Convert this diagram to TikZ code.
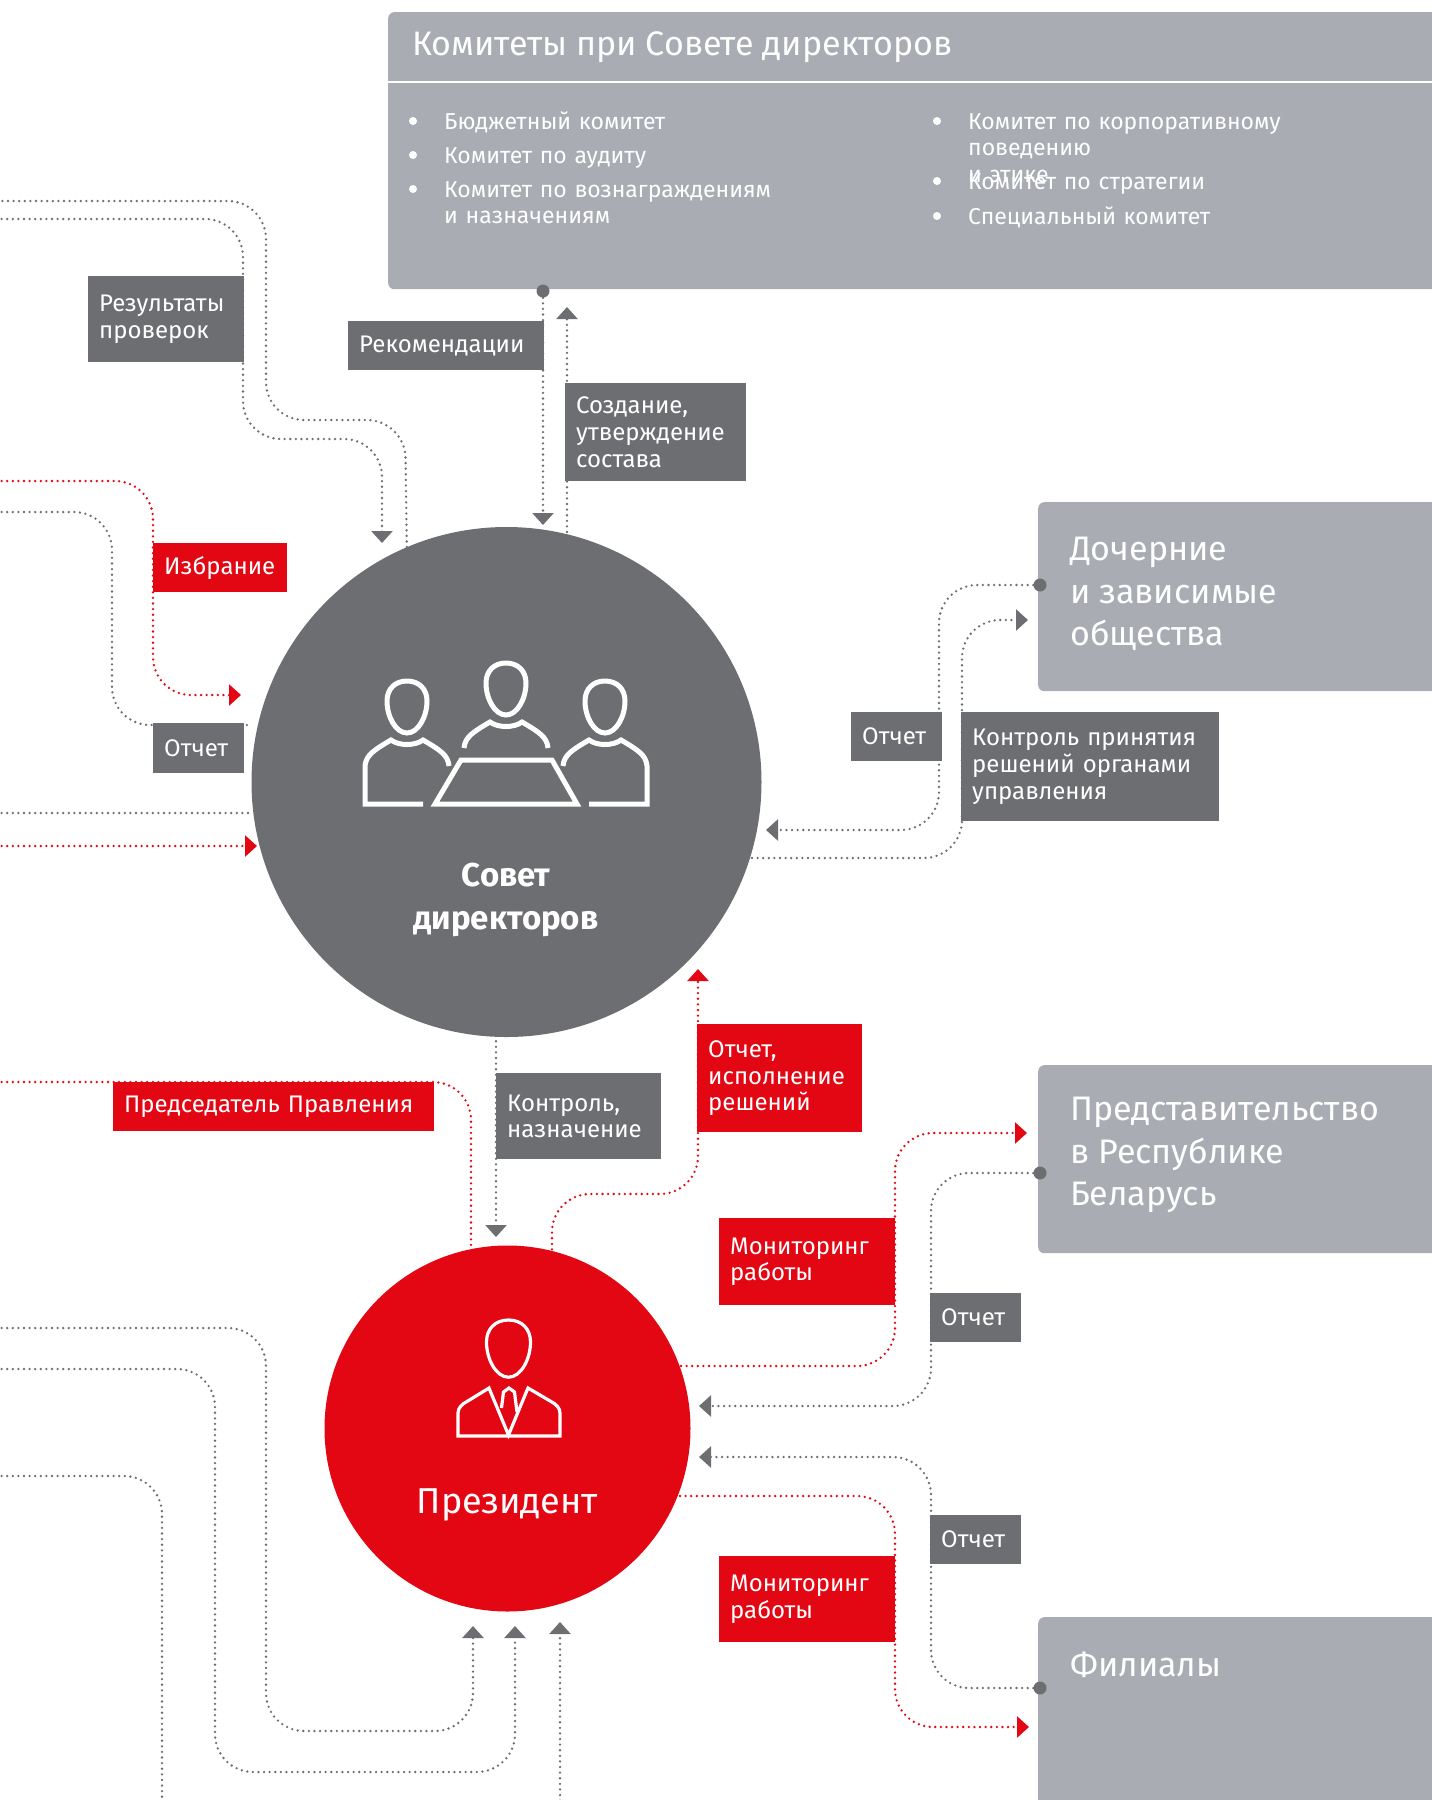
\documentclass[tikz,border=0pt]{standalone}
\usepackage{fontspec}
\setmainfont{Fira Sans}
\usetikzlibrary{arrows.meta,backgrounds}
\definecolor{boardgray}{HTML}{6D6E71}
\definecolor{boxgray}{HTML}{A9ACB3}
\definecolor{brandred}{HTML}{E30613}
\tikzset{
  link/.style={line width=2.6pt, dash pattern=on 0pt off 5.6pt, line cap=round, rounded corners=38pt},
  linkgray/.style={link, draw=boardgray},
  linkred/.style={link, draw=brandred},
  tipgray/.style={-{Triangle[width=21pt,length=12pt,fill=boardgray]}},
  tipred/.style={-{Triangle[width=21pt,length=12pt,fill=brandred]}},
  tag/.style={anchor=north west, inner xsep=11pt, inner ysep=0pt, text=white, align=left,
    font=\fontsize{24}{26.6}\selectfont},
  taggray/.style={tag, fill=boardgray},
  tagred/.style={tag, fill=brandred},
  panel/.style={anchor=north west, fill=boxgray, inner sep=0pt, rounded corners=6pt},
  paneltext/.style={anchor=west, text=white, align=left, inner sep=0pt, font=\fontsize{34}{42.5}\selectfont},
  itemtext/.style={anchor=base west, text=white, text width=430pt, align=left, inner sep=0pt,
    font=\fontsize{23}{26.6}\selectfont},
  dotmark/.style={circle, fill=boardgray, minimum size=13pt, inner sep=0pt},
  bullet/.style={circle, fill=white, minimum size=8pt, inner sep=0pt},
  headpic/.pic={\draw (0,0) .. controls (-12,0) and (-20,8) .. (-20,20) .. controls (-20,36) and (-11,52) .. (0,52)
    .. controls (11,52) and (20,36) .. (20,20) .. controls (20,8) and (12,0) .. (0,0) -- cycle;},
  shoulderpic/.pic={\draw (-42,85) .. controls (-41,74) and (-33,69) .. (-16,59)
    .. controls (-8,65) and (8,65) .. (16,59) .. controls (33,69) and (41,74) .. (42,85);},
  sitterpic/.pic={\draw (16,123) -- (-42,123) -- (-42,85) .. controls (-41,74) and (-33,69) .. (-16,59)
    .. controls (-8,65) and (8,65) .. (16,59) .. controls (33,69) and (41,74) .. (42,85);},
}
\begin{document}
\begin{tikzpicture}[x=1pt,y=-1pt]
\useasboundingbox (0,0) rectangle (1432,1800);

% grey panels
\node[panel, minimum width=1064pt, minimum height=277pt] (committees) at (388,12) {};
\node[panel, minimum width=420pt, minimum height=189pt] (subsidiaries) at (1038,502) {};
\node[panel, minimum width=420pt, minimum height=188pt] (office) at (1038,1065) {};
\node[panel, minimum width=420pt, minimum height=240pt] (branches) at (1038,1617) {};
\draw[white, line width=2.5pt] (388,82) -- (1432,82);

\node[anchor=west, text=white, inner sep=0pt, font=\fontsize{34}{40}\selectfont] (committeestitle) at (412,47) {Комитеты при Совете директоров};
\foreach \i/\x/\y/\t in {1/444/129/Бюджетный комитет,
    2/444/163/Комитет по аудиту,
    3/444/197/{Комитет по вознаграждениям\\и назначениям},
    4/968/129/{Комитет по корпоративному поведению\\и этике},
    5/968/189/Комитет по стратегии,
    6/968/224/Специальный комитет}{
  \node[itemtext] (item\i) at (\x,\y) {\t};
}
\foreach \i/\x/\y in {1/413/121, 2/413/155, 3/413/189, 4/937/121, 5/937/181, 6/937/216}{
  \node[bullet] (bullet\i) at (\x,\y) {};
}
\node[paneltext] (subsidiariestext) at (1070,594) {Дочерние\\и зависимые\\общества};
\node[paneltext] (officetext) at (1070,1155) {Представительство\\в Республике\\Беларусь};
\node[paneltext] (branchestext) at (1070,1665) {Филиалы};

% circles
\node[circle, fill=boardgray, minimum size=510pt, inner sep=0pt] (board) at (506.5,782) {};
\node[circle, fill=brandred, minimum size=366pt, inner sep=0pt] (president) at (507.5,1428.5) {};
\node[text=white, align=center, inner sep=0pt, font=\fontsize{33}{43.6}\selectfont\bfseries] (boardtext) at (506,900) {Совет\\директоров};
\node[text=white, inner sep=0pt, font=\fontsize{36}{42}\selectfont] (presidenttext) at (507.5,1505) {Президент};

% icon of the board
\begin{scope}[draw=white, line width=5pt]
  \pic at (407,681) {headpic};
  \pic at (407,681) {sitterpic};
  \pic at (506,663) {headpic};
  \pic at (506,663) {shoulderpic};
  \pic at (605,681) {headpic};
  \pic[xscale=-1] at (605,681) {sitterpic};
  \draw (461,760) -- (552,760) -- (577,804) -- (435,804) -- cycle;
\end{scope}
% icon of the president
\begin{scope}[draw=white, line width=3.2pt]
  \pic[scale=1.1] at (508.5,1320) {headpic};
  \draw (458,1436) -- (458,1413) .. controls (458,1408) and (462,1404) .. (467,1401.5) -- (489,1388) -- (508.5,1435) -- (528,1388)
    -- (551,1401.5) .. controls (556,1404) and (560,1408) .. (560,1413) -- (560,1436) -- cycle;
  \draw (501.5,1408) -- (503.5,1392) -- (509,1388) -- (514.5,1392) -- (517,1412);
\end{scope}

% dots on the panels
\node[dotmark] (committeesdot) at (543,291) {};
\node[dotmark] (subsidiariesdot) at (1040,585) {};
\node[dotmark] (officedot) at (1040,1173) {};
\node[dotmark] (branchesdot) at (1040,1688) {};

% tags
\node[taggray, minimum height=86pt, text width=134pt] (results) at (88,276) {Результаты\\проверок};
\node[taggray, minimum height=49pt, text width=174pt] (recommend) at (348,321) {Рекомендации};
\node[taggray, minimum height=98pt, text width=159pt] (creation) at (565,383) {Создание,\\утверждение\\состава};
\node[tagred, minimum height=49pt, text width=112pt] (election) at (153,543) {Избрание};
\node[taggray, minimum height=50pt, text width=69pt] (reportleft) at (153,723) {Отчет};
\node[taggray, minimum height=49pt, text width=69pt] (reportsub) at (851,712) {Отчет};
\node[taggray, minimum height=109pt, text width=236pt] (decisions) at (961,712) {Контроль принятия\\решений органами\\управления};
\node[taggray, minimum height=86pt, text width=143pt] (control) at (496,1073) {Контроль,\\назначение};
\node[tagred, minimum height=108pt, text width=143pt] (execution) at (697,1024) {Отчет,\\исполнение\\решений};
\node[tagred, minimum height=49pt, text width=299pt] (chairman) at (113,1082) {Председатель Правления};
\node[tagred, minimum height=87pt, text width=154pt] (monitorone) at (719,1218) {Мониторинг\\работы};
\node[taggray, minimum height=49pt, text width=69pt] (reportoffice) at (930,1293) {Отчет};
\node[taggray, minimum height=49pt, text width=69pt] (reportbranch) at (930,1515) {Отчет};
\node[tagred, minimum height=86pt, text width=154pt] (monitortwo) at (719,1556) {Мониторинг\\работы};

% free ends at the margin
\coordinate (outa) at (-4,201);
\coordinate (outb) at (-4,219);
\coordinate (outc) at (-4,481);
\coordinate (outd) at (-4,512);
\coordinate (oute) at (-4,813);
\coordinate (outf) at (-4,846);
\coordinate (outg) at (-4,1082);
\coordinate (outh) at (-4,1328);
\coordinate (outi) at (-4,1369);
\coordinate (outj) at (-4,1476);

\begin{scope}[on background layer]
  \draw[linkgray] (board.113) -- (405,420) -- (266,420) -- (266,201) -- (outa);
  \draw[linkgray, tipgray] (outb) -- (243,219) -- (243,439) -- (382,439) -- (382,543);
  \draw[linkred, tipred] (outc) -- (153,481) -- (153,695) -- (241,695);
  \draw[linkgray] (outd) -- (112,512) -- (112,725) -- (board.west |- 0,725);
  \draw[linkgray] (oute) -- (board.west |- 0,813);
  \draw[linkred, tipred] (outf) -- (257,846);
  \draw[linkgray, tipgray] (committeesdot) -- (543,525);
  \draw[linkgray, tipgray] (567,532) -- (567,307);
  \draw[linkgray, tipgray] (subsidiariesdot) -- (939,585) -- (939,830) -- (766,830);
  \draw[linkgray, tipgray] (752,858) -- (962,858) -- (962,620) -- (1028,620);
  \draw[linkgray, tipgray] (496,1030) -- (496,1237);
  \draw[linkred, tipred] (552,1255) -- (552,1194) -- (698,1194) -- (698,969);
  \draw[linkred] (outg) -- (471,1082) -- (471,1250);
  \draw[linkred, tipred] (681,1366) -- (895,1366) -- (895,1133) -- (1027,1133);
  \draw[linkgray, tipgray] (officedot) -- (931,1173) -- (931,1406) -- (699,1406);
  \draw[linkgray, tipgray] (branchesdot) -- (931,1688) -- (931,1457) -- (699,1457);
  \draw[linkred, tipred] (680,1496) -- (895,1496) -- (895,1727) -- (1029,1727);
  \draw[linkgray, tipgray] (outh) -- (266,1328) -- (266,1731) -- (473,1731) -- (473,1626);
  \draw[linkgray, tipgray] (outi) -- (215,1369) -- (215,1772) -- (515,1772) -- (515,1626);
  \draw[linkgray, tipgray] (outj) -- (162,1476) -- (162,1840) -- (560,1840) -- (560,1622);
\end{scope}
\end{tikzpicture}
\end{document}
